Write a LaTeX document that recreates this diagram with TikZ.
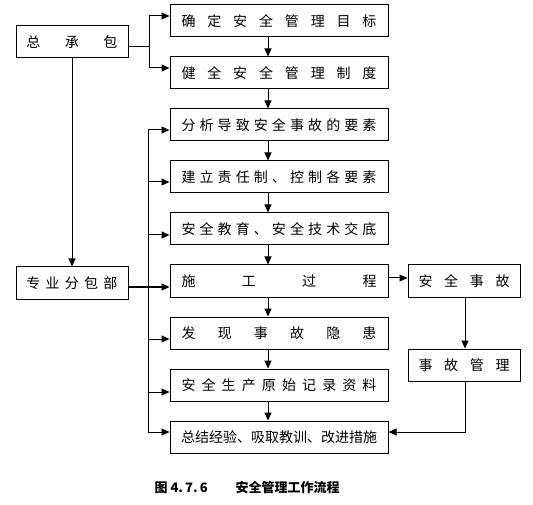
\documentclass[tikz,border=0pt]{standalone}
\usepackage{fontspec}
\setmainfont{Noto Sans CJK SC}
\usepackage{tikz}
\usetikzlibrary{arrows.meta}

\tikzset{
  box/.style={draw,line width=1pt,minimum height=32pt,inner sep=0pt,font=\fontsize{14pt}{16pt}\selectfont},
  midbox/.style={box,minimum width=218pt},
  sidebox/.style={box,minimum width=112pt},
  arr/.style={line width=1pt,-{Triangle[length=8pt,width=7pt]}},
  ln/.style={line width=1pt}
}
\newcommand{\wide}[1]{\makebox[195pt][s]{#1}}
\newcommand{\narrow}[1]{\makebox[91pt][s]{#1}}

\begin{document}
\begin{tikzpicture}[x=1pt,y=-1pt]
          \useasboundingbox (0,0) rectangle (533,505);
          % left column
          \node[sidebox] (zcb) at (72,42)  {\narrow{总 承 包}};
          \node[sidebox] (fbb) at (72,283) {\narrow{专 业 分 包 部}};
          % middle column
          \node[midbox] (b1) at (279,21)  {\wide{确 定 安 全 管 理 目 标}};
          \node[midbox] (b2) at (279,73)  {\wide{健 全 安 全 管 理 制 度}};
          \node[midbox] (b3) at (279,125) {\wide{分 析 导 致 安 全 事 故 的 要 素}};
          \node[midbox] (b4) at (279,177) {\wide{建 立 责 任 制 、 控 制 各 要 素}};
          \node[midbox] (b5) at (279,229) {\wide{安 全 教 育 、 安 全 技 术 交 底}};
          \node[midbox] (b6) at (279,281) {\wide{施 工 过 程}};
          \node[midbox] (b7) at (279,333) {\wide{发 现 事 故 隐 患}};
          \node[midbox] (b8) at (279,385) {\wide{安 全 生 产 原 始 记 录 资 料}};
          \node[midbox] (b9) at (279,437) {\makebox[195pt]{总结经验、吸取教训、改进措施}};
          % right column
          \node[sidebox] (sg) at (464,281) {\narrow{安 全 事 故}};
          \node[sidebox] (gl) at (464,365) {\narrow{事 故 管 理}};
          % caption
          \node[anchor=west,font=\bfseries\fontsize{13pt}{15pt}\selectfont] (cap1) at (151,488) {图 4.\,7.\,6};
          \node[anchor=west,font=\bfseries\fontsize{13pt}{15pt}\selectfont] (cap2) at (232,488) {安全管理工作流程};
          % helper coordinates
          \coordinate (mid) at (268,0);
          \coordinate (jz) at (149,47);
          \coordinate (bustop) at (148,130);
          \coordinate (busbot) at (148,432);
          \coordinate (rv) at (465,0);
          % connectors
          \draw[ln] (zcb.east |- jz) -- (jz);
          \draw[arr] (jz) |- (b1.west |- 0,16);
          \draw[arr] (jz) |- (b2.west |- 0,68);
          \draw[arr] (zcb.south) -- (fbb.north);
          \draw[ln] (bustop) -- (busbot);
          \draw[ln] (fbb.east |- 0,287) -- (148,287);
          \foreach \b/\y in {b3/130,b4/182,b5/235,b6/287,b7/339,b8/392,b9/432}
            \draw[arr] (148,\y) -- (\b.west |- 0,\y);
          \foreach \a/\b in {b1/b2,b2/b3,b3/b4,b4/b5,b5/b6,b6/b7,b7/b8,b8/b9}
            \draw[arr] (\a.south -| mid) -- (\b.north -| mid);
          \draw[arr] (b6.east |- 0,278) -- (sg.west |- 0,278);
          \draw[arr] (sg.south -| rv) -- (gl.north -| rv);
          \draw[arr] (gl.south -| rv) |- (b9.east |- 0,432);
        \end{tikzpicture}
\end{document}
